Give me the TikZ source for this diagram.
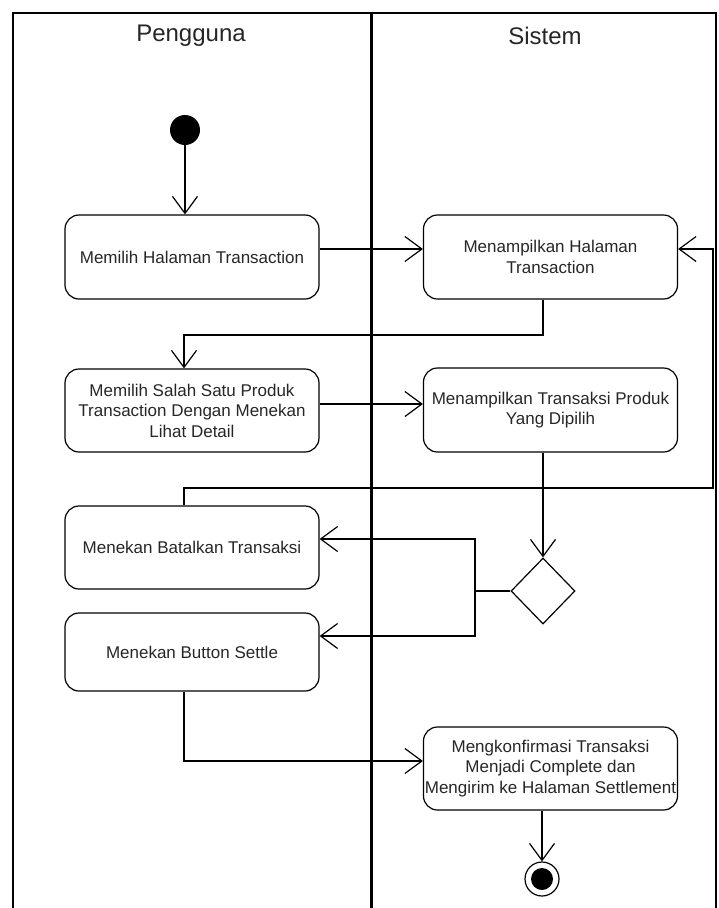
\documentclass[tikz,border=0pt]{standalone}
\usepackage{fontspec}
\setmainfont{Liberation Sans}
\usetikzlibrary{arrows.meta,shapes.geometric,calc}
\begin{document}
\begin{tikzpicture}[x=1pt,y=-1pt,
 act/.style={draw,rounded corners=14pt,line width=1.2pt,minimum width=254pt,minimum height=84pt,align=center,font=\fontsize{17}{20.5}\selectfont,inner sep=0pt,text=black!85},
 flow/.style={line width=1.2pt,-{Straight Barb[length=17pt,width=25pt,line width=1.2pt]}},
 plain/.style={line width=1.2pt},
 lane/.style={line width=1.6pt},
 hdr/.style={font=\fontsize{24}{28}\selectfont,text=black!85},
]
\useasboundingbox (0,0) rectangle (719,908);
% swimlanes
\draw[lane] (13,908) -- (13,13) -- (716,13) -- (716,908);
\draw[line width=3pt] (371,13) -- (371,908);
\node[hdr] (hP) at (191,36) {Pengguna};
\node[hdr] (hS) at (545,36) {Sistem};
% nodes
\node[circle,fill=black,minimum size=30pt,inner sep=0pt] (start) at (185,130) {};
\node[act] (b1) at (192,257) {Memilih Halaman Transaction};
\node[act] (b2) at (550.5,257) {Menampilkan Halaman\\Transaction};
\node[act,minimum height=83pt] (b3) at (192,410.5) {Memilih Salah Satu Produk\\Transaction Dengan Menekan\\Lihat Detail};
\node[act] (b4) at (550.5,410) {Menampilkan Transaksi Produk\\Yang Dipilih};
\node[act,minimum height=83pt] (b5) at (192,547.5) {Menekan Batalkan Transaksi};
\node[act,minimum height=78pt] (b6) at (192,652) {Menekan Button Settle};
\node[act,minimum height=83pt] (b7) at (550.5,768.5) {Mengkonfirmasi Transaksi\\Menjadi Complete dan\\Mengirim ke Halaman Settlement};
\node[diamond,draw,line width=1.2pt,minimum width=64pt,minimum height=66pt,inner sep=0pt] (dec) at (543,591) {};
\node[circle,draw,line width=1.2pt,minimum size=34pt,inner sep=0pt] (end) at (542,879) {};
\node[circle,fill=black,minimum size=22pt,inner sep=0pt] (endin) at (end) {};
% helper coordinates
\coordinate (xL) at (184,0);
\coordinate (xR) at (543,0);
\coordinate (xB) at (475,0);
\coordinate (loop) at (713,488);
\coordinate (y249) at (0,249);
\coordinate (y335) at (0,335);
\coordinate (y404) at (0,404);
\coordinate (y539) at (0,539);
\coordinate (y636) at (0,636);
\coordinate (y761) at (0,761);
% connectors
\draw[flow] (start) -- (start |- b1.north);
\draw[flow] (b1.east |- y249) -- (b2.west |- y249);
\draw[flow] (b2.south -| xR) -- (xR |- y335) -| (b3.north -| xL);
\draw[flow] (b3.east |- y404) -- (b4.west |- y404);
\draw[flow] (b5.north -| xL) |- (loop) |- (b2.east |- y249);
\draw[flow] (dec.north |- b4.south) -- (dec.north);
\draw[plain] (dec.west) -- (xB |- dec.west);
\draw[flow] (xB |- dec.west) |- (b5.east |- y539);
\draw[flow] (xB |- dec.west) |- (b6.east |- y636);
\draw[flow] (b6.south -| xL) |- (b7.west |- y761);
\draw[flow] (b7.south -| end) -- (end.north);
\end{tikzpicture}
\end{document}
